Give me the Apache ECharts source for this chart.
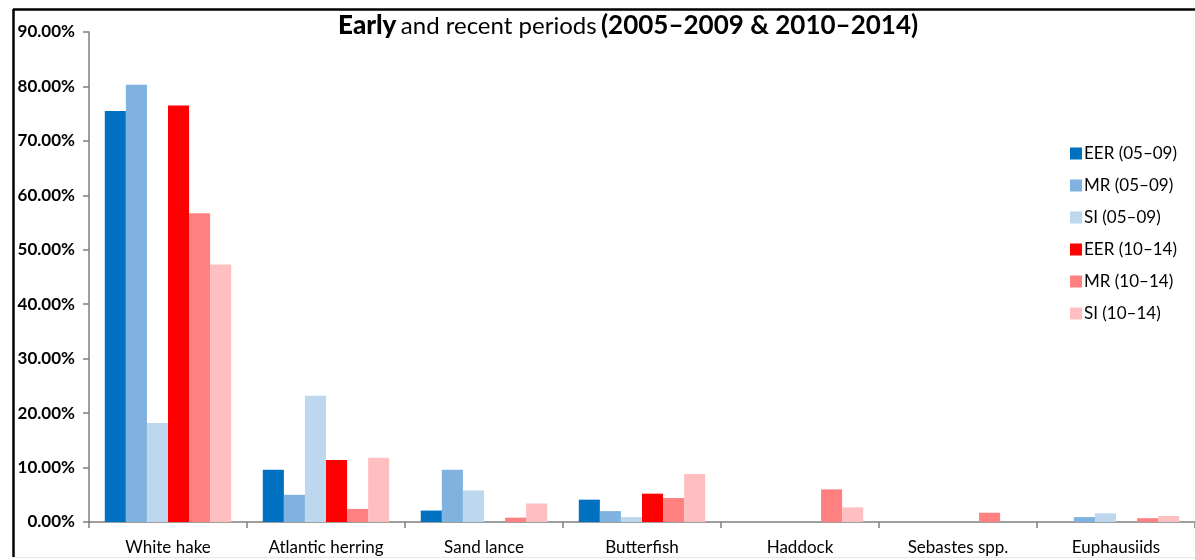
<!DOCTYPE html>
<html>
<head>
<meta charset="utf-8">
<script src="https://cdn.jsdelivr.net/npm/echarts@6/dist/echarts.min.js"></script>
<style>
  html, body { margin: 0; padding: 0; background: #fff; }
  #chart { width: 1195px; height: 560px; }
</style>
</head>
<body>
<div id="chart"></div>
<script>
// Prey categories along the x axis
const categories = ['White hake', 'Atlantic herring', 'Sand lance', 'Butterfish', 'Haddock', 'Sebastes spp.', 'Euphausiids'];

// Percent contribution per category, early period (2005–2009)
const eer0509 = [75.5, 9.6, 2.1, 4.1, 0, 0, 0];
const mr0509  = [80.3, 5.0, 9.6, 2.0, 0, 0, 0.9];
const si0509  = [18.2, 23.2, 5.8, 0.9, 0, 0, 1.6];

// Percent contribution per category, recent period (2010–2014)
const eer1014 = [76.5, 11.4, 0, 5.2, 0, 0, 0];
const mr1014  = [56.7, 2.4, 0.8, 4.4, 6.0, 1.7, 0.7];
const si1014  = [47.3, 11.8, 3.4, 8.8, 2.7, 0, 1.1];

const seriesNames = ['EER (05–09)', 'MR (05–09)', 'SI (05–09)', 'EER (10–14)', 'MR (10–14)', 'SI (10–14)'];
const seriesData = [eer0509, mr0509, si0509, eer1014, mr1014, si1014];
const seriesColors = ['#0070C0', '#7FB2DE', '#BDD7EE', '#FF0000', '#FF8080', '#FFBFC1'];

// Y axis ticks
const yMin = 0, yMax = 90, yStep = 10;

const font = 'Lato, "Open Sans", "DejaVu Sans", sans-serif';

const chart = echarts.init(document.getElementById('chart'), null, { renderer: 'canvas' });

chart.setOption({
  backgroundColor: '#ffffff',
  animation: false,
  textStyle: { fontFamily: font },
  title: {
    left: 333,
    top: 8,
    text: '{a|Early} {b|and recent periods} {c|(2005–2009 & 2010–2014)}',
    textStyle: {
      rich: {
        a: { fontFamily: font, fontSize: 26, fontWeight: 900, color: '#000' },
        b: { fontFamily: font, fontSize: 24, fontWeight: 'normal', color: '#000' },
        c: { fontFamily: font, fontSize: 26, fontWeight: 'bold', color: '#000' }
      }
    }
  },
  legend: {
    orient: 'vertical',
    left: 1065,
    top: 140,
    itemWidth: 12,
    itemHeight: 12,
    itemGap: 15,
    icon: 'rect',
    textStyle: { fontFamily: font, fontSize: 17, color: '#000', padding: [0, 0, 0, -3] },
    data: seriesNames
  },
  grid: { left: 89, right: 0, top: 32, bottom: 38, containLabel: false },
  xAxis: {
    type: 'category',
    data: categories,
    axisLine: { lineStyle: { color: '#7f7f7f', width: 1.5 } },
    axisTick: { show: true, length: 6, lineStyle: { color: '#7f7f7f', width: 1.5 } },
    axisLabel: { color: '#000', fontSize: 17, margin: 17, fontFamily: font }
  },
  yAxis: {
    type: 'value',
    min: yMin,
    max: yMax,
    interval: yStep,
    splitLine: { show: false },
    axisLine: { show: true, lineStyle: { color: '#7f7f7f', width: 1.5 } },
    axisTick: { show: true, length: 6, lineStyle: { color: '#7f7f7f', width: 1.5 } },
    axisLabel: {
      color: '#000',
      fontSize: 17,
      fontWeight: 'bold',
      margin: 14,
      fontFamily: font,
      formatter: v => v.toFixed(2) + '%'
    }
  },
  series: seriesNames.map((name, i) => ({
    name: name,
    type: 'bar',
    data: seriesData[i],
    barGap: '0%',
    barCategoryGap: '20%',
    itemStyle: { color: seriesColors[i] }
  })),
  graphic: [
    {
      type: 'line',
      shape: { x1: 13, y1: 9.5, x2: 1195, y2: 9.5 },
      style: { stroke: '#000', lineWidth: 2.5 }
    },
    {
      type: 'line',
      shape: { x1: 13.5, y1: 9, x2: 13.5, y2: 557 },
      style: { stroke: '#000', lineWidth: 2.5 }
    },
    {
      type: 'line',
      shape: { x1: 13, y1: 557.5, x2: 1195, y2: 557.5 },
      style: { stroke: '#e6e6e6', lineWidth: 1 }
    }
  ]
});
</script>
</body>
</html>
